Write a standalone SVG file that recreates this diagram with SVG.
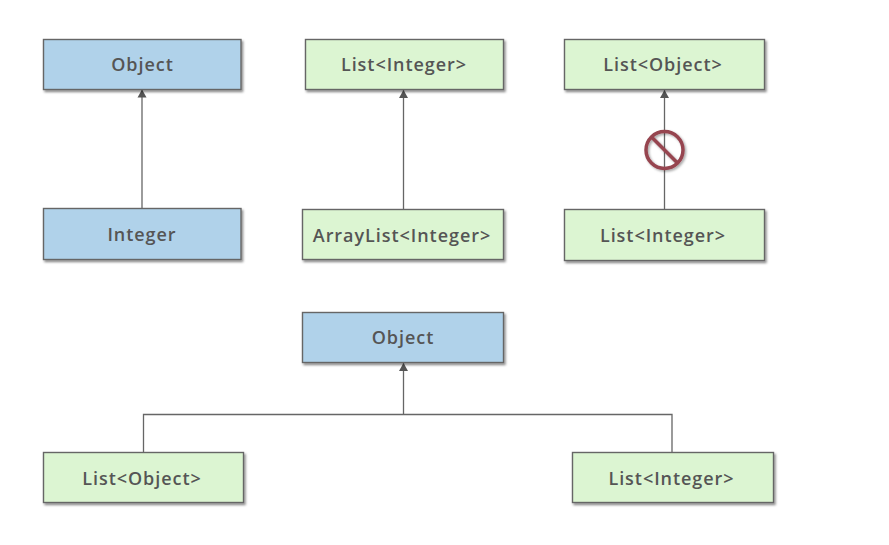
<svg xmlns="http://www.w3.org/2000/svg" width="889" height="545" viewBox="0 0 889 545">
<style>
.b{stroke:#666;stroke-width:1.4}
.blue{fill:#b0d2ea}
.green{fill:#dcf5d2}
text{font-family:"Open Sans","DejaVu Sans",sans-serif;font-size:18px;font-weight:600;fill:#555;text-anchor:middle;letter-spacing:.95px}
.c{fill:none;stroke:#666;stroke-width:1.3}
</style>
<defs>
<filter id="s" x="-10%" y="-20%" width="120%" height="150%"><feDropShadow dx="1.5" dy="2" stdDeviation="1.3" flood-color="#000" flood-opacity=".45"/></filter>
<filter id="s2" x="-20%" y="-20%" width="150%" height="150%"><feDropShadow dx="1.5" dy="1.5" stdDeviation="1.2" flood-color="#000" flood-opacity=".35"/></filter>
<marker id="a" markerUnits="userSpaceOnUse" markerWidth="9" markerHeight="10" refX="8" refY="5" orient="auto"><path d="M0 .5L8 5L0 9.500z" fill="#555"/></marker>
</defs>
<rect width="889" height="545" fill="#fff"/>
<g id="connectors">
<path class="c" marker-end="url(#a)" d="M142 208V89.500"/>
<path class="c" marker-end="url(#a)" d="M403.500 209V90"/>
<path class="c" marker-end="url(#a)" d="M664.500 209V90"/>
<path class="c" marker-end="url(#a)" d="M403.500 414.500V363"/>
<path class="c" d="M143.500 452V414.500H672V452"/>
</g>
<g id="object1"><rect class="b blue" filter="url(#s)" x="43.500" y="39.500" width="197.500" height="50"/><text x="142.500" y="71">Object</text></g>
<g id="list-integer1"><rect class="b green" filter="url(#s)" x="305.500" y="39.500" width="198" height="50"/><text x="404" y="71">List&lt;Integer&gt;</text></g>
<g id="list-object1"><rect class="b green" filter="url(#s)" x="564.500" y="39.500" width="200" height="50"/><text x="663" y="71">List&lt;Object&gt;</text></g>
<g id="integer"><rect class="b blue" filter="url(#s)" x="43.500" y="208.500" width="197.500" height="51"/><text x="142" y="241">Integer</text></g>
<g id="arraylist"><rect class="b green" filter="url(#s)" x="302.500" y="209.500" width="201" height="50"/><text x="402" y="242">ArrayList&lt;Integer&gt;</text></g>
<g id="list-integer2"><rect class="b green" filter="url(#s)" x="564.500" y="209.500" width="200" height="51"/><text x="663" y="242">List&lt;Integer&gt;</text></g>
<g id="object2"><rect class="b blue" filter="url(#s)" x="302.500" y="312.500" width="201" height="50"/><text x="403" y="344">Object</text></g>
<g id="list-object2"><rect class="b green" filter="url(#s)" x="43.500" y="452.500" width="200" height="50"/><text x="142" y="485">List&lt;Object&gt;</text></g>
<g id="list-integer3"><rect class="b green" filter="url(#s)" x="572.500" y="452.500" width="201" height="50"/><text x="671.500" y="485">List&lt;Integer&gt;</text></g>
<g id="forbidden" filter="url(#s2)"><circle cx="664.500" cy="150" r="18.500" fill="none" stroke="#96444f" stroke-width="3.500"/><path d="M652 137.500L677 162.500" stroke="#96444f" stroke-width="3.500"/></g>
</svg>
